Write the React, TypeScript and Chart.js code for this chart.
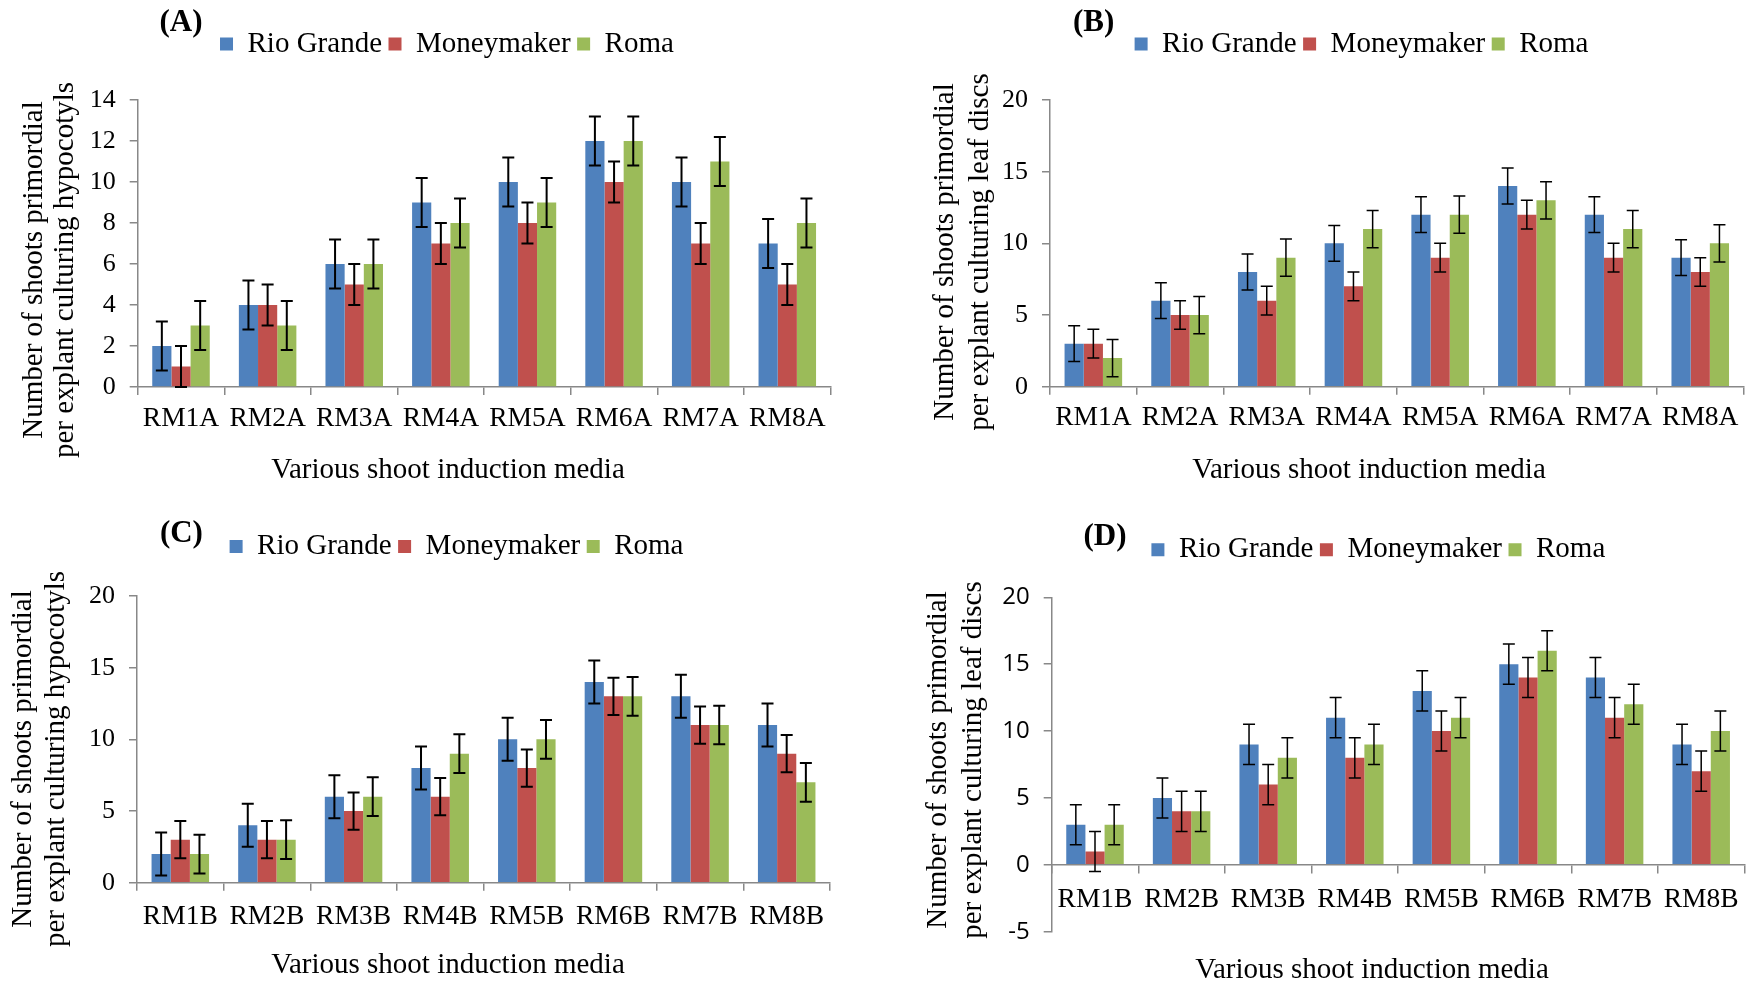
import React, { useEffect, useRef } from 'react';
import { Chart, registerables } from 'chart.js';

Chart.register(...registerables);

// ---------------- data ----------------
const seriesNames = ['Rio Grande', 'Moneymaker', 'Roma'];
const seriesColors = ['#4F81BD', '#C0504D', '#9BBB59'];

const mediaA = ['RM1A', 'RM2A', 'RM3A', 'RM4A', 'RM5A', 'RM6A', 'RM7A', 'RM8A'];
const mediaB = ['RM1B', 'RM2B', 'RM3B', 'RM4B', 'RM5B', 'RM6B', 'RM7B', 'RM8B'];

// (A) hypocotyls, RM*A media
const rioGrandeA = [2, 4, 6, 9, 10, 12, 10, 7];
const moneymakerA = [1, 4, 5, 7, 8, 10, 7, 5];
const romaA = [3, 3, 6, 8, 9, 12, 11, 8];
const rioGrandeAErr = [1.2, 1.2, 1.2, 1.2, 1.2, 1.2, 1.2, 1.2];
const moneymakerAErr = [1, 1, 1, 1, 1, 1, 1, 1];
const romaAErr = [1.2, 1.2, 1.2, 1.2, 1.2, 1.2, 1.2, 1.2];

// (B) leaf discs, RM*A media
const rioGrandeB = [3, 6, 8, 10, 12, 14, 12, 9];
const moneymakerB = [3, 5, 6, 7, 9, 12, 9, 8];
const romaB = [2, 5, 9, 11, 12, 13, 11, 10];
const rioGrandeBErr = [1.25, 1.25, 1.25, 1.25, 1.25, 1.25, 1.25, 1.25];
const moneymakerBErr = [1, 1, 1, 1, 1, 1, 1, 1];
const romaBErr = [1.3, 1.3, 1.3, 1.3, 1.3, 1.3, 1.3, 1.3];

// (C) hypocotyls, RM*B media
const rioGrandeC = [2, 4, 6, 8, 10, 14, 13, 11];
const moneymakerC = [3, 3, 5, 6, 8, 13, 11, 9];
const romaC = [2, 3, 6, 9, 10, 13, 11, 7];
const rioGrandeCErr = [1.5, 1.5, 1.5, 1.5, 1.5, 1.5, 1.5, 1.5];
const moneymakerCErr = [1.3, 1.3, 1.3, 1.3, 1.3, 1.3, 1.3, 1.3];
const romaCErr = [1.35, 1.35, 1.35, 1.35, 1.35, 1.35, 1.35, 1.35];

// (D) leaf discs, RM*B media
const rioGrandeD = [3, 5, 9, 11, 13, 15, 14, 9];
const moneymakerD = [1, 4, 6, 8, 10, 14, 11, 7];
const romaD = [3, 4, 8, 9, 11, 16, 12, 10];
const rioGrandeDErr = [1.5, 1.5, 1.5, 1.5, 1.5, 1.5, 1.5, 1.5];
const moneymakerDErr = [1.5, 1.5, 1.5, 1.5, 1.5, 1.5, 1.5, 1.5];
const romaDErr = [1.5, 1.5, 1.5, 1.5, 1.5, 1.5, 1.5, 1.5];

const yTicksA = [0, 2, 4, 6, 8, 10, 12, 14];
const yTicksB = [0, 5, 10, 15, 20];
const yTicksC = [0, 5, 10, 15, 20];
const yTicksD = [-5, 0, 5, 10, 15, 20];

const yTitleLine1 = 'Number of shoots primordial';
const yTitleHypocotyls = 'per explant culturing hypocotyls';
const yTitleLeafDiscs = 'per explant culturing leaf discs';
const xTitleText = 'Various shoot induction media';

// ---------------- styles ----------------
const SERIF = '"Liberation Serif", "Times New Roman", serif';
const SANS = '"Open Sans", "Liberation Sans", sans-serif';
const AXIS_GRAY = '#888888';
const CANVAS_W = 878;
const CANVAS_H = 491;

// ---------------- plugins ----------------
const errorBarPlugin = {
  id: 'errorBars',
  afterDatasetsDraw(chart: any, _args: any, opts: any) {
    const ctx = chart.ctx;
    const yScale = chart.scales.y;
    chart.data.datasets.forEach((ds: any, i: number) => {
      const meta = chart.getDatasetMeta(i);
      meta.data.forEach((bar: any, j: number) => {
        const v = ds.data[j];
        const e = ds.errors[j];
        const x = bar.x;
        const yTop = yScale.getPixelForValue(v + e);
        const yBot = yScale.getPixelForValue(v - e);
        const half = opts.cap / 2;
        ctx.save();
        ctx.strokeStyle = '#000';
        ctx.lineWidth = opts.lineWidth;
        ctx.beginPath();
        ctx.moveTo(x, yTop);
        ctx.lineTo(x, yBot);
        ctx.moveTo(x - half, yTop);
        ctx.lineTo(x + half, yTop);
        ctx.moveTo(x - half, yBot);
        ctx.lineTo(x + half, yBot);
        ctx.stroke();
        ctx.restore();
      });
    });
  },
};

// fixes the legend box height and optionally shifts it horizontally
const legendPlacePlugin = {
  id: 'legendPlace',
  beforeLayout(chart: any, _args: any, opts: any) {
    const legend = chart.legend;
    if (!legend || legend.__fixed) return;
    const orig = legend.fit;
    legend.fit = function () {
      orig.call(this);
      this.height = opts.height;
    };
    legend.__fixed = true;
  },
  afterLayout(chart: any, _args: any, opts: any) {
    const legend = chart.legend;
    if (!legend || !opts.shiftX) return;
    legend.left += opts.shiftX;
    legend.right += opts.shiftX;
  },
};

const panelTextPlugin = {
  id: 'panelText',
  afterDraw(chart: any, _args: any, opts: any) {
    const ctx = chart.ctx;
    (opts.items || []).forEach((t: any) => {
      ctx.save();
      ctx.font = t.font;
      ctx.fillStyle = '#000';
      ctx.textAlign = 'center';
      ctx.textBaseline = t.baseline || 'middle';
      ctx.translate(t.x, t.y);
      if (t.rotate) ctx.rotate(-Math.PI / 2);
      ctx.fillText(t.text, 0, 0);
      ctx.restore();
    });
  },
};

// ---------------- panels ----------------
type PanelSpec = {
  left: number;
  top: number;
  labels: string[];
  values: number[][];
  errors: number[][];
  yTicks: number[];
  yTickFont: any;
  pad: { left: number; right: number; top: number; bottom: number };
  legendHeight: number;
  legendShift: number;
  yWidth: number;
  xHeight: number;
  xLabelPad: number;
  xAtZero: boolean;
  errWidth: number;
  panelLabel: { text: string; x: number; y: number };
  yTitle: { lines: string[]; xs: number[]; y: number };
  xTitle: { x: number; y: number };
};

const panels: PanelSpec[] = [
  {
    left: 0,
    top: 0,
    labels: mediaA,
    values: [rioGrandeA, moneymakerA, romaA],
    errors: [rioGrandeAErr, moneymakerAErr, romaAErr],
    yTicks: yTicksA,
    yTickFont: { family: SERIF, size: 26 },
    pad: { left: 63.3, right: 47.4, top: 23, bottom: 0 },
    legendHeight: 77,
    legendShift: 0,
    yWidth: 74.4,
    xHeight: 104,
    xLabelPad: 7,
    xAtZero: false,
    errWidth: 2,
    panelLabel: { text: '(A)', x: 181, y: 23 },
    yTitle: { lines: [yTitleLine1, yTitleHypocotyls], xs: [41.5, 73], y: 270 },
    xTitle: { x: 448, y: 470 },
  },
  {
    left: 878,
    top: 0,
    labels: mediaA,
    values: [rioGrandeB, moneymakerB, romaB],
    errors: [rioGrandeBErr, moneymakerBErr, romaBErr],
    yTicks: yTicksB,
    yTickFont: { family: SERIF, size: 26 },
    pad: { left: 101.5, right: 12.4, top: 23, bottom: 0 },
    legendHeight: 77,
    legendShift: 0,
    yWidth: 70.5,
    xHeight: 104.3,
    xLabelPad: 7,
    xAtZero: false,
    errWidth: 1.5,
    panelLabel: { text: '(B)', x: 215.7, y: 23 },
    yTitle: { lines: [yTitleLine1, yTitleLeafDiscs], xs: [75, 110], y: 252 },
    xTitle: { x: 491, y: 470 },
  },
  {
    left: 0,
    top: 491,
    labels: mediaB,
    values: [rioGrandeC, moneymakerC, romaC],
    errors: [rioGrandeCErr, moneymakerCErr, romaCErr],
    yTicks: yTicksC,
    yTickFont: { family: SERIF, size: 26 },
    pad: { left: 83.1, right: 48, top: 34.4, bottom: 0 },
    legendHeight: 70.6,
    legendShift: 0,
    yWidth: 53.9,
    xHeight: 99.3,
    xLabelPad: 10,
    xAtZero: false,
    errWidth: 2,
    panelLabel: { text: '(C)', x: 181.4, y: 43 },
    yTitle: { lines: [yTitleLine1, yTitleHypocotyls], xs: [31, 64], y: 268 },
    xTitle: { x: 448, y: 474 },
  },
  {
    left: 878,
    top: 491,
    labels: mediaB,
    values: [rioGrandeD, moneymakerD, romaD],
    errors: [rioGrandeDErr, moneymakerDErr, romaDErr],
    yTicks: yTicksD,
    yTickFont: { family: SANS, size: 24 },
    pad: { left: 100.8, right: 11.5, top: 37.7, bottom: 50.3 },
    legendHeight: 68.6,
    legendShift: 16.7,
    yWidth: 72.9,
    xHeight: 0,
    xLabelPad: 10,
    xAtZero: true,
    errWidth: 1.5,
    panelLabel: { text: '(D)', x: 227, y: 45.5 },
    yTitle: { lines: [yTitleLine1, yTitleLeafDiscs], xs: [68, 103], y: 269 },
    xTitle: { x: 494, y: 479 },
  },
];

function Panel({ spec }: { spec: PanelSpec }) {
  const ref = useRef<HTMLCanvasElement | null>(null);

  useEffect(() => {
    const canvas = ref.current;
    if (!canvas) return;
    const yMin = spec.yTicks[0];
    const yMax = spec.yTicks[spec.yTicks.length - 1];
    const yStep = spec.yTicks[1] - spec.yTicks[0];

    const textItems = [
      {
        text: spec.panelLabel.text,
        x: spec.panelLabel.x,
        y: spec.panelLabel.y,
        font: `bold 31px ${SERIF}`,
      },
      {
        text: xTitleText,
        x: spec.xTitle.x,
        y: spec.xTitle.y,
        font: `29px ${SERIF}`,
      },
      ...spec.yTitle.lines.map((line, i) => ({
        text: line,
        x: spec.yTitle.xs[i],
        y: spec.yTitle.y,
        font: `29px ${SERIF}`,
        rotate: true,
        baseline: 'alphabetic',
      })),
    ];

    const chart = new Chart(canvas, {
      type: 'bar',
      data: {
        labels: spec.labels,
        datasets: seriesNames.map((name, i) => ({
          label: name,
          data: spec.values[i],
          errors: spec.errors[i],
          backgroundColor: seriesColors[i],
          borderWidth: 0,
          barPercentage: 1,
          categoryPercentage: 0.664,
        })) as any,
      },
      options: {
        animation: false,
        responsive: false,
        maintainAspectRatio: false,
        devicePixelRatio: 1,
        layout: { padding: spec.pad },
        plugins: {
          legend: {
            display: true,
            position: 'top',
            align: 'center',
            labels: {
              boxWidth: 13,
              boxHeight: 13,
              padding: 6.5,
              color: '#000',
              font: { family: SERIF, size: 29 },
            },
          },
          tooltip: { enabled: false },
          title: { display: false },
          errorBars: { lineWidth: spec.errWidth, cap: 12 },
          legendPlace: { height: spec.legendHeight, shiftX: spec.legendShift },
          panelText: { items: textItems },
        } as any,
        scales: {
          x: {
            type: 'category',
            offset: true,
            position: spec.xAtZero ? ({ y: 0 } as any) : 'bottom',
            grid: {
              display: true,
              offset: true,
              drawOnChartArea: false,
              drawTicks: true,
              tickLength: 8,
              color: AXIS_GRAY,
              lineWidth: 1.5,
            },
            border: { display: true, color: AXIS_GRAY, width: 1.5 },
            ticks: {
              color: '#000',
              font: { family: SERIF, size: 27.5 },
              padding: spec.xLabelPad,
              maxRotation: 0,
              minRotation: 0,
              autoSkip: false,
            },
            afterFit: (scale: any) => {
              if (!spec.xAtZero) scale.height = spec.xHeight;
            },
          },
          y: {
            type: 'linear',
            min: yMin,
            max: yMax,
            ticks: {
              stepSize: yStep,
              color: '#000',
              font: spec.yTickFont,
              padding: 14,
            },
            grid: {
              display: true,
              drawOnChartArea: false,
              drawTicks: true,
              tickLength: 8,
              color: AXIS_GRAY,
              lineWidth: 1.5,
            },
            border: { display: true, color: AXIS_GRAY, width: 1.5 },
            afterFit: (scale: any) => {
              scale.width = spec.yWidth;
            },
          },
        },
      } as any,
      plugins: [errorBarPlugin, legendPlacePlugin, panelTextPlugin] as any,
    });

    return () => chart.destroy();
  }, [spec]);

  return (
    <canvas
      ref={ref}
      width={CANVAS_W}
      height={CANVAS_H}
      style={{
        position: 'absolute',
        left: spec.left,
        top: spec.top,
        width: CANVAS_W,
        height: CANVAS_H,
      }}
    />
  );
}

export default function App() {
  return (
    <div
      style={{
        position: 'absolute',
        left: 0,
        top: 0,
        width: 1756,
        height: 982,
        background: '#ffffff',
        overflow: 'hidden',
      }}
    >
      {panels.map((p, i) => (
        <Panel key={i} spec={p} />
      ))}
    </div>
  );
}
